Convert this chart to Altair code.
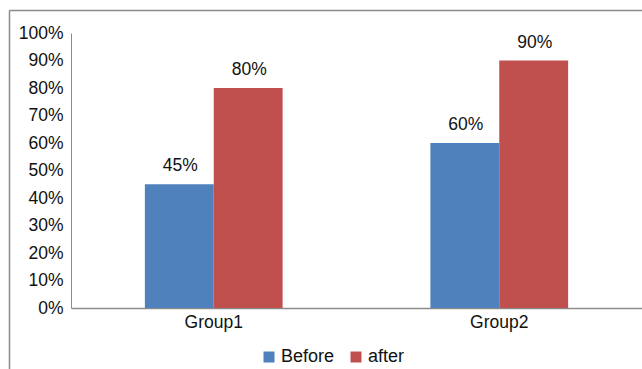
import altair as alt
import pandas as pd

groups = ["Group1", "Group2"]
series = ["Before", "after"]
before = [0.45, 0.60]
after = [0.80, 0.90]
colors = ["#4F81BD", "#C0504D"]

rows = []
for g, b, a in zip(groups, before, after):
    rows.append({"group": g, "series": "Before", "value": b})
    rows.append({"group": g, "series": "after", "value": a})
df = pd.DataFrame(rows)

FONT = "Liberation Sans"
FS = 17.5
W, H = 571, 275
ticks = [i / 10 for i in range(11)]

x_enc = alt.X("group:N", sort=groups, title=None,
              scale=alt.Scale(paddingInner=0.035, paddingOuter=0.0175),
              axis=alt.Axis(labelAngle=0, ticks=False, labelPadding=5,
                            domainColor="#8c8c8c", domainWidth=1.5,
                            labelFontSize=FS, labelFont=FONT, labelColor="#111111"))
xo_enc = alt.XOffset("series:N", sort=series,
                     scale=alt.Scale(paddingInner=0, paddingOuter=1))
y_enc = alt.Y("value:Q", title=None,
              scale=alt.Scale(domain=[0, 1], nice=False),
              axis=alt.Axis(format=".0%", values=ticks, tickCount=20,
                            ticks=False, grid=False, labelPadding=8,
                            labelOverlap=False,
                            domainColor="#8c8c8c", labelFontSize=FS,
                            labelFont=FONT, labelColor="#111111"))

bars = alt.Chart(df).mark_bar().encode(
    x=x_enc, xOffset=xo_enc, y=y_enc,
    color=alt.Color("series:N", sort=series,
                    scale=alt.Scale(domain=series, range=colors),
                    legend=alt.Legend(title=None, orient="none", direction="horizontal",
                                      legendX=189, legendY=315, padding=0,
                                      symbolType="square", symbolSize=121,
                                      symbolStrokeWidth=0, labelOffset=3,
                                      columnPadding=12, labelFontSize=18,
                                      labelFont=FONT, labelColor="#111111")),
)

labels = alt.Chart(df).mark_text(dy=-13, dx=1, baseline="alphabetic", fontSize=FS,
                                 font=FONT, color="#111111").encode(
    x=x_enc, xOffset=xo_enc, y=y_enc,
    text=alt.Text("value:Q", format=".0%"),
)

frame_top = alt.Chart(pd.DataFrame({"a": [0]})).mark_rule(color="#8a8a8a", strokeWidth=1.5).encode(
    x=alt.value(-61.5), x2=alt.value(W), y=alt.value(-22.5))
frame_left = alt.Chart(pd.DataFrame({"a": [0]})).mark_rule(color="#8a8a8a", strokeWidth=1.5).encode(
    x=alt.value(-61.5), y=alt.value(-22.5), y2=alt.value(340))

chart = alt.layer(bars, labels, frame_top, frame_left).properties(
    width=W, height=H,
    autosize=alt.AutoSizeParams(type="none"),
    padding={"left": 71, "top": 33, "right": 0, "bottom": 61},
    background="white",
).configure_view(stroke=None).configure_axis(labelOverlap=False)

chart.save("out.html", embed_options={"renderer": "svg", "actions": False})
